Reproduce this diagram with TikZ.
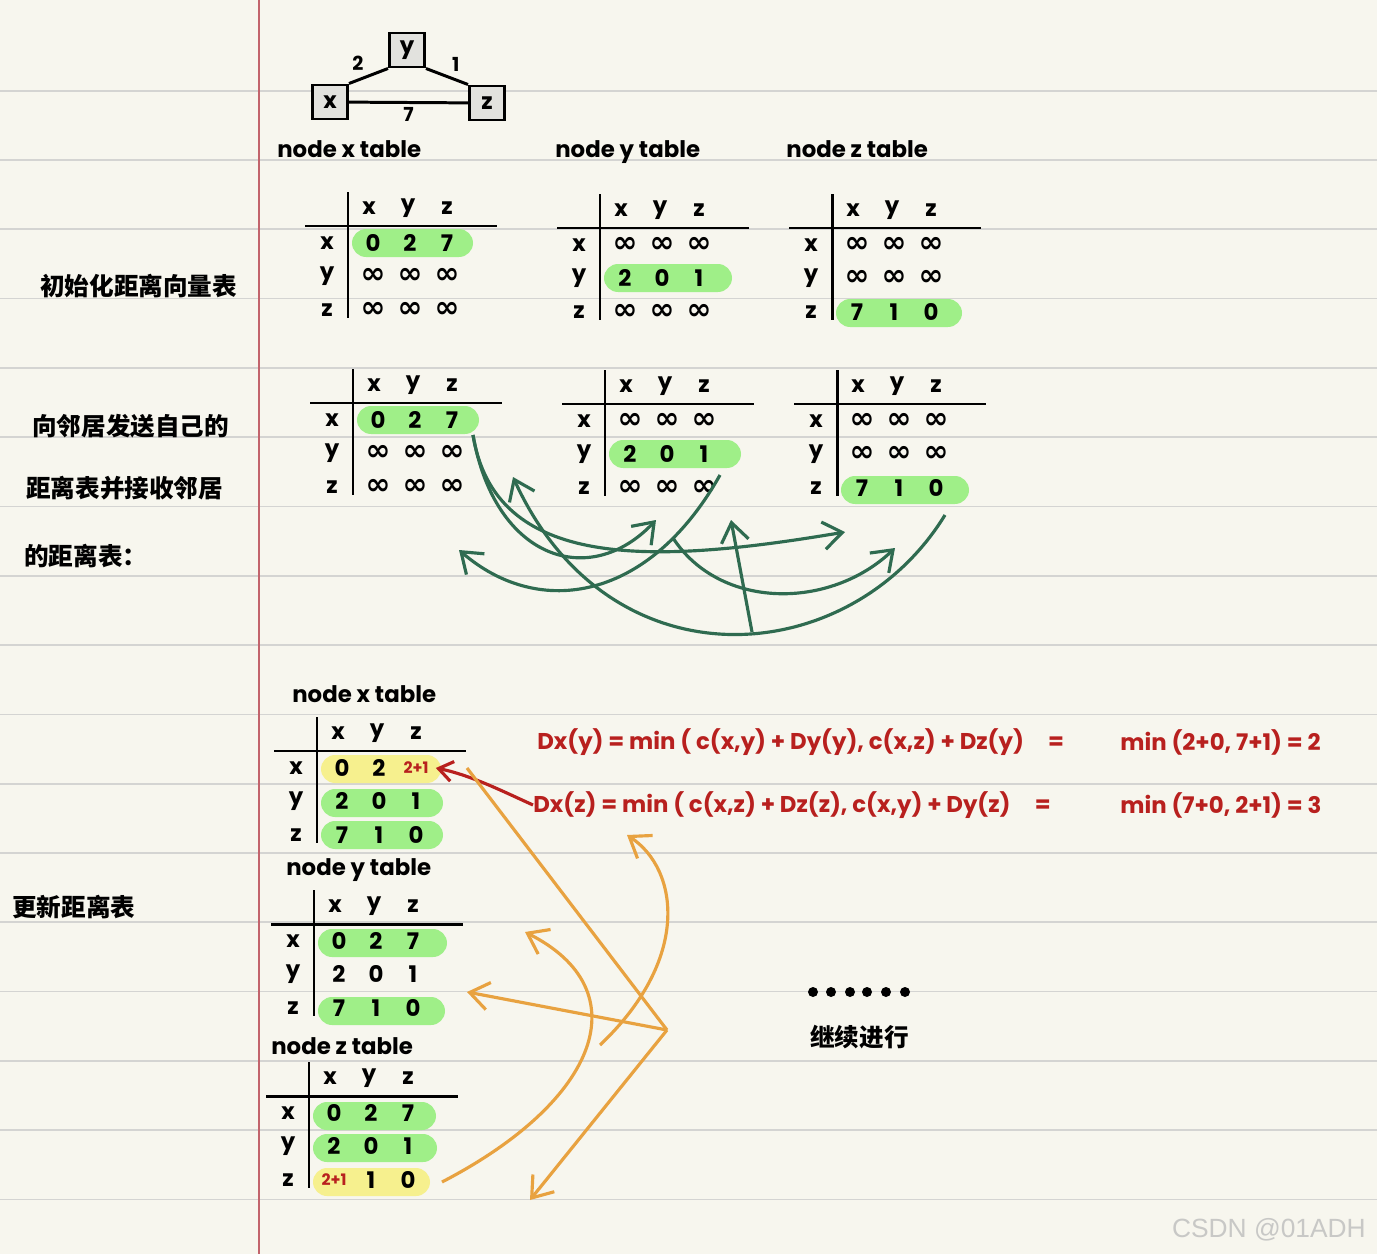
\documentclass[tikz,border=0pt]{standalone}
\usepackage{fontspec}
\setmainfont{Poppins}
\newfontfamily\cjk{Noto Sans CJK SC}
\newfontfamily\symf{DejaVu Sans}
\newfontfamily\markfont{Liberation Sans}
\usetikzlibrary{arrows.meta,calc,positioning}
\definecolor{Paper}{HTML}{F7F6EE}
\definecolor{RuleGray}{HTML}{D4D4D2}
\definecolor{Margin}{HTML}{C2646C}
\definecolor{PillGreen}{HTML}{9FEF88}
\definecolor{PillYellow}{HTML}{F6F08E}
\definecolor{Pine}{HTML}{2F6B50}
\definecolor{Amber}{HTML}{E8A240}
\definecolor{RedInk}{HTML}{B8201E}
\definecolor{BoxGray}{HTML}{E2E2DE}
\definecolor{Mark}{HTML}{C8C8C6}
\tikzset{
  rule/.style={line width=1.7pt, draw=black},
  head/.style={font=\fontsize{13}{14}\selectfont\bfseries, inner sep=0pt},
  cell/.style={font=\fontsize{13}{14}\selectfont\bfseries, inner sep=0pt},
  title/.style={font=\fontsize{13}{15}\selectfont\bfseries, anchor=base west, inner sep=0pt},
  note/.style={font=\cjk\fontsize{14}{16}\selectfont\bfseries, anchor=west, inner sep=0pt},
  vertex/.style={draw=black, line width=1.7pt, fill=BoxGray, minimum width=0.7cm,
    minimum height=0.68cm, inner sep=0pt, font=\fontsize{13}{14}\selectfont\bfseries},
  edgelbl/.style={font=\fontsize{11}{12}\selectfont\bfseries, inner sep=2pt},
  formula/.style={font=\fontsize{13}{15}\selectfont\bfseries, text=RedInk, anchor=west, inner sep=0pt},
  sendflow/.style={-{Straight Barb[length=3.8mm,width=5.5mm]}, line width=1.8pt, draw=Pine},
  updline/.style={line width=1.8pt, draw=Amber},
  updflow/.style={-{Straight Barb[length=3.8mm,width=5.5mm]}, line width=1.8pt, draw=Amber},
  fixflow/.style={-{Straight Barb[length=2.8mm,width=4mm]}, line width=1.8pt, draw=RedInk}
}
\newcommand{\oo}{{\symf\fontsize{17}{17}\selectfont ∞}}
\newcommand{\twoplusone}{\textcolor{RedInk}{\fontsize{9}{10}\selectfont 2+1}}
% distance table: name, origin, row x, row y, row z, highlights (row offset/colour/width)
\newcommand{\disttab}[6]{%
  \begin{scope}[shift={#2}]
    \foreach \hy/\hc/\hw in {#6}
      \fill[\hc, rounded corners=8pt] (4,\hy-14) rectangle (4+\hw,\hy+14);
    \draw[rule] (0,-34) -- (0,92);
    \draw[rule] (-43,0) -- (149,0);
    \foreach \c [count=\i] in {x,y,z} {
      \node[head] (#1-h\c) at ({21+39*(\i-1)},-18) {\c};
    }
    \node[head] (#1-rx) at (-21,17) {x};
    \node[head] (#1-ry) at (-21,50) {y};
    \node[head] (#1-rz) at (-21,84) {z};
    \foreach \v [count=\i] in {#3} \node[cell] (#1-x\i) at ({25+37*(\i-1)},17) {\v};
    \foreach \v [count=\i] in {#4} \node[cell] (#1-y\i) at ({25+37*(\i-1)},50) {\v};
    \foreach \v [count=\i] in {#5} \node[cell] (#1-z\i) at ({25+37*(\i-1)},84) {\v};
  \end{scope}}

\begin{document}
\begin{tikzpicture}[x=0.02cm,y=-0.02cm]
  \fill[Paper] (0,0) rectangle (1377,1254);
  \useasboundingbox (0,0) rectangle (1377,1254);
  % ruled paper
  \foreach \k in {0,...,16}
    \draw[RuleGray, line width=1pt] (0,{90.7+69.3*\k}) -- (1377,{90.7+69.3*\k});
  \draw[Margin, line width=1.1pt] (259,0) -- (259,1254);

  % graph
  \node[vertex] (gx) at (330,102) {x};
  \node[vertex] (gy) at (407,50) {y};
  \node[vertex] (gz) at (487,103) {z};
  \draw[rule] (gx.north east) -- (gy.south west) node[edgelbl, midway, above left] {2};
  \draw[rule] (gy.south east) -- (gz.north west) node[edgelbl, midway, above right] {1};
  \draw[rule] (gx) -- (gz) node[edgelbl, midway, below] {7};

  % initial tables
  \node[title] (ix-title) at (277,157) {node x table};
  \node[title] (iy-title) at (555,157) {node y table};
  \node[title] (iz-title) at (786,157) {node z table};
  \disttab{ix}{(348,226)}{0,2,7}{\oo,\oo,\oo}{\oo,\oo,\oo}{17/PillGreen/121}
  \disttab{iy}{(600,228)}{\oo,\oo,\oo}{2,0,1}{\oo,\oo,\oo}{50/PillGreen/128}
  \disttab{iz}{(832,228)}{\oo,\oo,\oo}{\oo,\oo,\oo}{7,1,0}{85/PillGreen/126}

  \node[note] (lbl-init) at (40,286) {初始化距离向量表};
  \node[note] (lbl-send1) at (32,426) {向邻居发送自己的};
  \node[note] (lbl-send2) at (26,488) {距离表并接收邻居};
  \node[note] (lbl-send3) at (24,556) {的距离表：};
  \node[note] (lbl-upd) at (12,907) {更新距离表};

  % exchanged tables
  \disttab{sx}{(353,403)}{0,2,7}{\oo,\oo,\oo}{\oo,\oo,\oo}{17/PillGreen/122}
  \disttab{sy}{(605,404)}{\oo,\oo,\oo}{2,0,1}{\oo,\oo,\oo}{50/PillGreen/132}
  \disttab{sz}{(837,404)}{\oo,\oo,\oo}{\oo,\oo,\oo}{7,1,0}{86/PillGreen/128}

  \coordinate (sx-out) at (473,435);
  \coordinate (sy-out) at (720,475);
  \coordinate (sz-out) at (945,515);
  \coordinate (sy-fork) at (673,538);
  \coordinate (sz-fork) at (752,632);
  \coordinate (sx-in) at (513,477);
  \coordinate (sx-in2) at (459,550);
  \coordinate (sy-in) at (656,520);
  \coordinate (sy-in2) at (731,520);
  \coordinate (sz-in) at (845,532);
  \coordinate (sz-in2) at (895,548);
  \draw[sendflow] (sx-out) .. controls (495,560) and (590,590) .. (sy-in);
  \draw[sendflow] (sx-out) .. controls (495,570) and (650,565) .. (sz-in);
  \draw[sendflow] (sy-out) .. controls (650,600) and (540,620) .. (sx-in2);
  \draw[sendflow] (sy-fork) .. controls (720,610) and (830,610) .. (sz-in2);
  \draw[sendflow] (sz-out) .. controls (850,670) and (610,690) .. (sx-in);
  \draw[sendflow] (sz-fork) -- (sy-in2);

  % updated tables
  \node[title] (ux-title) at (292,702) {node x table};
  \disttab{ux}{(317,751)}{0,2,\twoplusone}{2,0,1}{7,1,0}{18/PillYellow/120,52/PillGreen/122,84/PillGreen/122}
  \node[title] (uy-title) at (286,875) {node y table};
  \disttab{uy}{(314,924)}{0,2,7}{2,0,1}{7,1,0}{19/PillGreen/129,87/PillGreen/127}
  \node[title] (uz-title) at (271,1054) {node z table};
  \disttab{uz}{(309,1096)}{0,2,7}{2,0,1}{\twoplusone,1,0}{20/PillGreen/123,52/PillGreen/124,86/PillYellow/117}

  \node[formula] (fy) at (537,742) {Dx(y) = min ( c(x,y) + Dy(y), c(x,z) + Dz(y) \ \ \ \ =};
  \node[formula] (fy-res) at (1120,742) {min (2+0, 7+1) = 2};
  \node[formula] (fz) at (533,805) {Dx(z) = min ( c(x,z) + Dz(z), c(x,y) + Dy(z) \ \ \ \ =};
  \node[formula] (fz-res) at (1120,805) {min (7+0, 2+1) = 3};
  \draw[fixflow] (fz.west) .. controls (500,790) and (470,775) .. ([xshift=4pt]ux-x3.east);

  \coordinate (ux-out) at (467,768);
  \coordinate (hub) at (667,1030);
  \coordinate (uy-in) at (467,992);
  \coordinate (uz-in) at (530,1200);
  \coordinate (uz-out) at (442,1182);
  \coordinate (uy-in2) at (525,932);
  \coordinate (uy-out) at (600,1045);
  \coordinate (ux-in) at (627,835);
  \draw[updline] (ux-out) -- (hub);
  \draw[updflow] (hub) -- (uy-in);
  \draw[updflow] (hub) -- (uz-in);
  \draw[updflow] (uz-out) .. controls (600,1100) and (640,990) .. (uy-in2);
  \draw[updflow] (uy-out) .. controls (690,960) and (680,870) .. (ux-in);

  \foreach \d in {813,831,850,867,886,905}
    \fill (\d,992) circle (0.1cm);
  \node[note] (lbl-more) at (810,1037) {继续进行};
  \node[font=\markfont\fontsize{15}{16}\selectfont, text=Mark, anchor=east] (mark) at (1372,1230) {CSDN @01ADH};
\end{tikzpicture}
\end{document}
